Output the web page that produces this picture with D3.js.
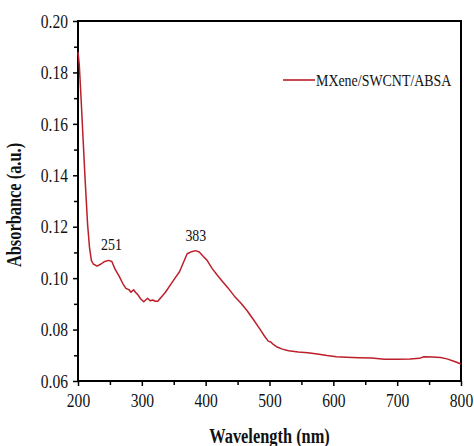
<!DOCTYPE html>
<html><head><meta charset="utf-8">
<script src="https://cdn.jsdelivr.net/npm/d3@7"></script>
<style>body{margin:0;background:#fff}svg{display:block}svg text{font-family:"Liberation Serif","Times New Roman",serif}</style>
</head><body>
<svg id="c" width="474" height="446"></svg>
<script>
const wavelength = [200,202,205,208,211,215,218,221,224,230,236,242,248,253,258,264,270,275,280,283,287,290,294,298,303,306,309,313,317,321,325,330,337,345,352,359,365,371,378,384,390,396,402,410,418,426,435,445,455,465,475,485,492,498,502,506,512,520,530,545,560,575,590,605,620,640,660,680,700,720,735,742,755,768,778,790,800];
const absorbance = [0.188,0.183,0.169,0.154,0.139,0.121,0.112,0.1068,0.1055,0.1047,0.1055,0.1065,0.1069,0.1065,0.1035,0.101,0.098,0.096,0.0955,0.0945,0.0955,0.0945,0.0935,0.092,0.0908,0.0915,0.0922,0.0912,0.0915,0.091,0.091,0.0925,0.0945,0.0975,0.1,0.1025,0.106,0.1095,0.1103,0.1107,0.1102,0.1085,0.107,0.1038,0.1012,0.0988,0.0962,0.093,0.0903,0.0873,0.0838,0.0802,0.0775,0.0755,0.0752,0.0742,0.0732,0.0724,0.0718,0.0713,0.071,0.0705,0.0699,0.0694,0.0692,0.069,0.0689,0.0685,0.0685,0.0686,0.0688,0.0694,0.0693,0.0691,0.0686,0.0676,0.0666];
const xTicks = [200,300,400,500,600,700,800];
const yTicks = [0.06,0.08,0.10,0.12,0.14,0.16,0.18,0.20];
const seriesName = "MXene/SWCNT/ABSA";
const peakLabels = ["251","383"];
const peakX = [251,383];
const peakY = [0.1069,0.1107];

const svg = d3.select("#c");
const L=78, R=461, T=21, B=381;
const x = d3.scaleLinear().domain([200,800]).range([L,R]);
const y = d3.scaleLinear().domain([0.06,0.20]).range([B,T]);
const SX = 0.82;
const red = "#bb1f2a";

function squish(sel){
  sel.selectAll("text").each(function(){
    const t=d3.select(this);
    const tx=+t.attr("x")||0, ty=+t.attr("y")||0;
    t.attr("x",0).attr("y",0).attr("transform",`translate(${tx},${ty}) scale(${SX},1)`);
  });
}

const gxm = svg.append("g").attr("transform",`translate(0,${B})`)
  .call(d3.axisBottom(x).tickValues(d3.range(250,800,100)).tickSize(4).tickFormat(""));
gxm.select(".domain").remove();
gxm.selectAll("line").attr("stroke","#000").attr("stroke-width",1.5);
const gym = svg.append("g").attr("transform",`translate(${L},0)`)
  .call(d3.axisLeft(y).tickValues(d3.range(0.07,0.20,0.02)).tickSize(4).tickFormat(""));
gym.select(".domain").remove();
gym.selectAll("line").attr("stroke","#000").attr("stroke-width",1.5);

const gx = svg.append("g").attr("transform",`translate(0,${B})`)
  .call(d3.axisBottom(x).tickValues(xTicks).tickSize(5).tickPadding(7).tickFormat(d3.format("d")));
gx.select(".domain").remove();
gx.selectAll("line").attr("stroke","#000").attr("stroke-width",1.5);
gx.selectAll("text").attr("font-size",19).attr("fill","#111").attr("dy","0.72em");
squish(gx);

const gy = svg.append("g").attr("transform",`translate(${L},0)`)
  .call(d3.axisLeft(y).tickValues(yTicks).tickSize(5).tickPadding(5).tickFormat(d3.format(".2f")));
gy.select(".domain").remove();
gy.selectAll("line").attr("stroke","#000").attr("stroke-width",1.5);
gy.selectAll("text").attr("font-size",19).attr("fill","#111").attr("dy","0.33em");
squish(gy);

svg.append("rect").attr("x",L).attr("y",T).attr("width",R-L).attr("height",B-T)
  .attr("fill","none").attr("stroke","#000").attr("stroke-width",2);

svg.append("path").datum(wavelength.map((w,i)=>[w,absorbance[i]]))
  .attr("d",d3.line().x(d=>x(d[0])).y(d=>y(d[1])))
  .attr("fill","none").attr("stroke",red).attr("stroke-width",1.5).attr("stroke-linejoin","round");

peakLabels.forEach((t,i)=>{
  svg.append("text").attr("transform",`translate(${x(peakX[i])+1},${y(peakY[i])-10}) scale(${SX},1)`)
    .attr("text-anchor","middle").attr("font-size",17).attr("fill","#111").text(t);
});

svg.append("line").attr("x1",283).attr("x2",315).attr("y1",80).attr("y2",80).attr("stroke",red).attr("stroke-width",1.6);
svg.append("text").attr("transform",`translate(316,86) scale(${SX},1)`)
  .attr("font-size",17).attr("fill","#111").text(seriesName);

svg.append("text").attr("transform",`translate(${(L+R)/2},443) scale(${SX},1)`)
  .attr("text-anchor","middle").attr("font-size",20).attr("font-weight","bold").attr("fill","#111")
  .text("Wavelength (nm)");
svg.append("text").attr("transform",`translate(21,${(T+B)/2+4}) rotate(-90) scale(${SX},1)`)
  .attr("text-anchor","middle").attr("font-size",20).attr("font-weight","bold").attr("fill","#111")
  .text("Absorbance (a.u.)");
</script>
</body></html>
